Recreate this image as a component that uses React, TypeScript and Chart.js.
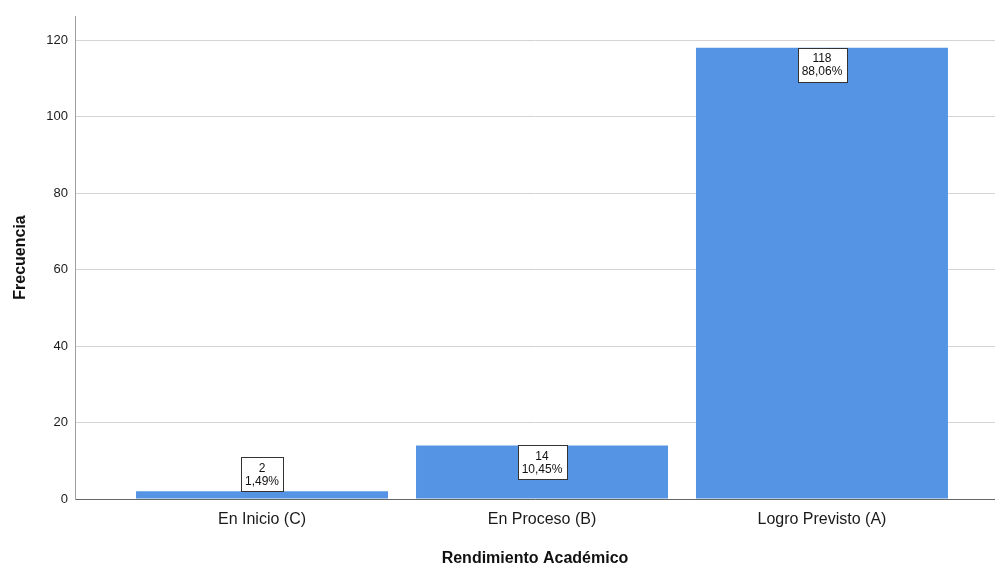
import React, { useEffect, useRef } from "react";
import { Chart, registerables } from "chart.js";

Chart.register(...registerables);

const categories = ["En Inicio (C)", "En Proceso (B)", "Logro Previsto (A)"];
const frequencies = [2, 14, 118];
const percentLabels = ["1,49%", "10,45%", "88,06%"];
const yTicks = [0, 20, 40, 60, 80, 100, 120];
const xTitle = "Rendimiento Académico";
const yTitle = "Frecuencia";

const FONT = "'Liberation Sans', Arial, sans-serif";

const labelBoxPlugin = {
  id: "labelBoxes",
  afterDatasetsDraw(chart: any) {
    const ctx = chart.ctx;
    const meta = chart.getDatasetMeta(0);
    const yScale = chart.scales.y;
    ctx.save();
    ctx.font = `12px ${FONT}`;
    ctx.textAlign = "center";
    ctx.textBaseline = "middle";
    meta.data.forEach((bar: any, i: number) => {
      const l1 = String(frequencies[i]);
      const l2 = percentLabels[i];
      const w = Math.max(ctx.measureText(l1).width, ctx.measureText(l2).width) + 8;
      const h = 34;
      const x = bar.x;
      const top = bar.y;
      const barH = yScale.getPixelForValue(0) - top;
      const boxTop = barH >= h + 2 ? top : top - h;
      const bx = Math.round(x - w / 2) + 0.5;
      const by = Math.round(boxTop) + 0.5;
      ctx.fillStyle = "#ffffff";
      ctx.fillRect(bx, by, Math.round(w), h);
      ctx.strokeStyle = "#333333";
      ctx.lineWidth = 1;
      ctx.strokeRect(bx, by, Math.round(w), h);
      ctx.fillStyle = "#111111";
      ctx.fillText(l1, x, boxTop + 11);
      ctx.fillText(l2, x, boxTop + 24);
    });
    ctx.restore();
  },
};

export default function App() {
  const ref = useRef<HTMLCanvasElement>(null);
  useEffect(() => {
    document.body.style.margin = "0";
    const chart = new Chart(ref.current as HTMLCanvasElement, {
      type: "bar",
      data: {
        datasets: [
          {
            data: frequencies.map((v, i) => ({ x: i, y: v })),
            backgroundColor: "#5594E4",
            borderWidth: 0,
            barPercentage: 0.9,
            categoryPercentage: 1,
          },
        ],
      },
      plugins: [labelBoxPlugin],
      options: {
        animation: false,
        responsive: false,
        maintainAspectRatio: false,
        layout: { padding: { top: 16, right: 0, left: 0, bottom: 0 } },
        plugins: { legend: { display: false }, tooltip: { enabled: false } },
        scales: {
          x: {
            type: "linear",
            offset: false,
            bounds: "ticks",
            min: -0.668,
            max: 2.618,
            afterBuildTicks: (s: any) => {
              s.ticks = categories.map((_, i) => ({ value: i }));
            },
            afterFit: (s: any) => {
              s.height = 67;
            },
            ticks: {
              callback: (v: any) => categories[v as number] ?? "",
              font: { family: FONT, size: 16 },
              color: "#1a1a1a",
              padding: 11,
              maxRotation: 0,
              autoSkip: false,
            },
            grid: { display: false, drawTicks: false, offset: false },
            border: { display: true, color: "#666666", width: 1 },
            title: {
              display: true,
              text: xTitle,
              font: { family: FONT, size: 16, weight: "bold" },
              color: "#111111",
              padding: { top: 0, bottom: -2 },
            },
          },
          y: {
            min: 0,
            max: 126.3,
            afterBuildTicks: (s: any) => {
              s.ticks = yTicks.map((v) => ({ value: v }));
            },
            afterFit: (s: any) => {
              s.width = 75;
            },
            ticks: {
              font: { family: FONT, size: 13 },
              color: "#1a1a1a",
              padding: 7,
            },
            grid: { color: "#d4d4d4", lineWidth: 1, drawTicks: false },
            border: { display: true, color: "#a0a0a0", width: 1 },
            title: {
              display: true,
              text: yTitle,
              font: { family: FONT, size: 16, weight: "bold" },
              color: "#111111",
              padding: { top: 11, bottom: 0 },
            },
          },
        },
      } as any,
    });
    return () => chart.destroy();
  }, []);
  return (
    <div style={{ width: 995, height: 566, background: "#fff" }}>
      <canvas ref={ref} width={995} height={566} style={{ display: "block" }} />
    </div>
  );
}
